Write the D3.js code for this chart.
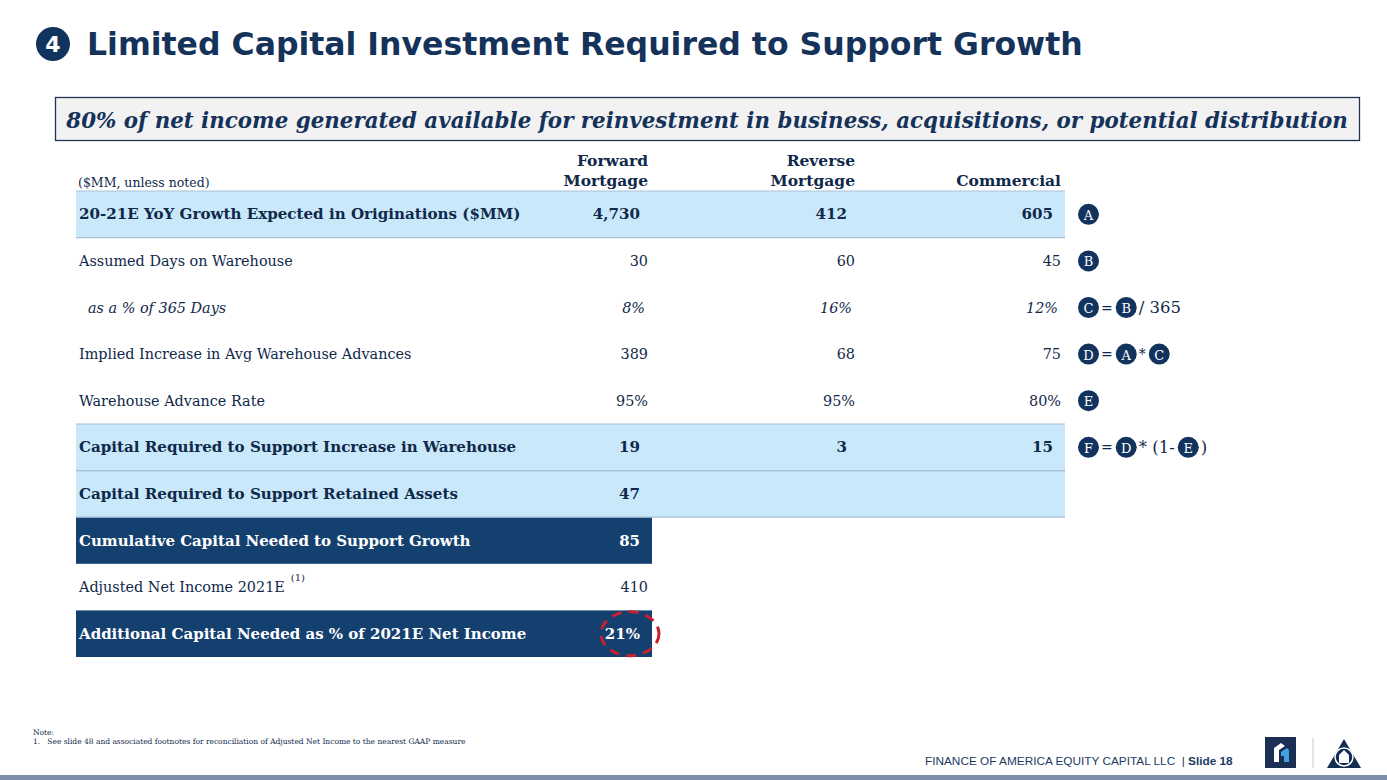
<!DOCTYPE html>
<html><head><meta charset="utf-8">
<script src="https://cdn.jsdelivr.net/npm/d3@7"></script>
<style>body{margin:0;background:#fff}svg{display:block}</style>
</head><body><svg id="c" width="1387" height="780"></svg>
<script>
// ---- data ----
const titleText = "Limited Capital Investment Required to Support Growth";
const subtitleText = "80% of net income generated available for reinvestment in business, acquisitions, or potential distribution";
const unitNote = "($MM, unless noted)";
const columns = ["Forward|Mortgage", "Reverse|Mortgage", "Commercial"];
const rowLabels = [
  "20-21E YoY Growth Expected in Originations ($MM)",
  "Assumed Days on Warehouse",
  "as a % of 365 Days",
  "Implied Increase in Avg Warehouse Advances",
  "Warehouse Advance Rate",
  "Capital Required to Support Increase in Warehouse",
  "Capital Required to Support Retained Assets",
  "Cumulative Capital Needed to Support Growth",
  "Adjusted Net Income 2021E",
  "Additional Capital Needed as % of 2021E Net Income"
];
const rowKinds = ["highlight","plain","italic","plain","plain","highlight","highlight","dark","plain","dark"];
const forwardValues = ["4,730","30","8%","389","95%","19","47","85","410","21%"];
const reverseValues = ["412","60","16%","68","95%","3","","","",""];
const commercialValues = ["605","45","12%","75","80%","15","","","",""];
const formulas = [
  ["@A"], ["@B"], ["@C","=","@B","/ 365"], ["@D","=","@A","*","@C"], ["@E"],
  ["@F","=","@D","* (1-","@E",")"], [], [], [], []
];
const footnoteRow = 8;
const noteLines = ["Note:", "1.\u00a0\u00a0\u00a0See slide 48 and associated footnotes for reconciliation of Adjusted Net Income to the nearest GAAP measure"];
const footerText = "FINANCE OF AMERICA EQUITY CAPITAL LLC\u00a0\u00a0| ";
const footerSlide = "Slide 18";

// ---- style ----
const NAVY = "#14406f", TXT = "#10284a", LIGHT = "#c9e8f9", SEP = "#a9c1d6";
const SERIF = "'DejaVu Serif', Georgia, serif";
const svg = d3.select("#c");

function fitWidth(sel, target) {
  const w = sel.node().getComputedTextLength();
  const fs = parseFloat(sel.attr("font-size"));
  sel.attr("font-size", fs * target / w);
}
function sizeFor(k) { return k === "highlight" ? 15.1 : k === "dark" ? 15.0 : 14.4; }

// Title
svg.append("circle").attr("cx", 53).attr("cy", 44).attr("r", 17).attr("fill", "#12335d");
svg.append("text").attr("x", 53).attr("y", 52).attr("text-anchor", "middle")
  .attr("font-family", "'DejaVu Sans', Verdana, sans-serif").attr("font-weight", "bold")
  .attr("font-size", 22).attr("fill", "#fff").text("4");
const t = svg.append("text").attr("x", 87).attr("y", 55)
  .attr("font-family", "'DejaVu Sans', Verdana, sans-serif").attr("font-weight", "bold")
  .attr("font-size", 31).attr("fill", "#14325a").text(titleText);
fitWidth(t, 996);

// Subtitle box
svg.append("rect").attr("x", 55.5).attr("y", 97.5).attr("width", 1304).attr("height", 43)
  .attr("fill", "#f2f2f2").attr("stroke", "#1e3553").attr("stroke-width", 1.3);
const st = svg.append("text").attr("x", 707).attr("y", 128).attr("text-anchor", "middle")
  .attr("font-family", SERIF).attr("font-style", "italic").attr("font-weight", "bold")
  .attr("font-size", 24).attr("fill", "#15325a").text(subtitleText);
fitWidth(st, 1282);

// Scales
const y = d3.scaleBand().domain(d3.range(rowLabels.length)).range([191, 657]).padding(0);
const colRight = d3.scaleOrdinal().domain(columns).range([648, 855, 1061]);
const colValues = [forwardValues, reverseValues, commercialValues];
const tableLeft = 76, tableRight = 1065, narrowRight = 652;

// Header
svg.append("text").attr("x", 78).attr("y", 187).attr("font-family", SERIF)
  .attr("font-size", 12.5).attr("fill", TXT).text(unitNote);
columns.forEach(c => {
  const parts = c.split("|");
  parts.forEach((p, i) => {
    svg.append("text").attr("x", colRight(c)).attr("y", 186 - (parts.length - 1 - i) * 20)
      .attr("text-anchor", "end").attr("font-family", SERIF).attr("font-weight", "bold")
      .attr("font-size", 15.5).attr("fill", TXT).text(p);
  });
});

// Row backgrounds
const rows = svg.append("g");
rowKinds.forEach((k, i) => {
  const right = (k === "dark" || i >= 7) ? narrowRight : tableRight;
  if (k === "highlight" || k === "dark") {
    rows.append("rect").attr("x", tableLeft).attr("y", y(i)).attr("width", right - tableLeft)
      .attr("height", y.bandwidth()).attr("fill", k === "dark" ? NAVY : LIGHT);
  }
});
rowKinds.forEach((k, i) => {
  if (k === "highlight") {
    [y(i), y(i) + y.bandwidth()].forEach(yy => {
      rows.append("line").attr("x1", tableLeft).attr("x2", tableRight)
        .attr("y1", yy).attr("y2", yy).attr("stroke", SEP).attr("stroke-width", 1.2);
    });
  }
});

// Labels and values
rowLabels.forEach((lab, i) => {
  const k = rowKinds[i];
  const bold = k === "highlight" || k === "dark";
  const fill = k === "dark" ? "#fff" : TXT;
  const fs = sizeFor(k);
  const cy = y(i) + y.bandwidth() / 2;
  const lt = svg.append("text").attr("x", k === "italic" ? 88 : 79).attr("y", cy)
    .attr("dominant-baseline", "central").attr("font-family", SERIF)
    .attr("font-weight", bold ? "bold" : "normal").attr("font-style", k === "italic" ? "italic" : "normal")
    .attr("font-size", fs).attr("fill", fill).text(lab);
  if (i === footnoteRow) {
    const w = lt.node().getComputedTextLength();
    svg.append("text").attr("x", 79 + w + 6).attr("y", cy - 6).attr("font-family", SERIF)
      .attr("font-size", 10).attr("fill", fill).text("(1)");
  }
  columns.forEach((c, j) => {
    const v = colValues[j][i];
    if (!v) return;
    const off = bold ? 8 : (k === "italic" ? 3 : 0);
    svg.append("text").attr("x", colRight(c) - off).attr("y", cy)
      .attr("text-anchor", "end").attr("dominant-baseline", "central").attr("font-family", SERIF)
      .attr("font-weight", bold ? "bold" : "normal").attr("font-style", k === "italic" ? "italic" : "normal")
      .attr("font-size", fs).attr("fill", fill).text(v);
  });
  let x = 1078;
  formulas[i].forEach(tok => {
    if (tok.startsWith("@")) {
      svg.append("circle").attr("cx", x + 10.5).attr("cy", cy).attr("r", 10.5).attr("fill", "#12335d");
      svg.append("text").attr("x", x + 10.5).attr("y", cy + 1).attr("text-anchor", "middle")
        .attr("dominant-baseline", "central").attr("font-family", SERIF).attr("font-size", 13)
        .attr("fill", "#fff").text(tok.slice(1));
      x += 21 + 2;
    } else {
      const tt = svg.append("text").attr("x", x).attr("y", cy).attr("dominant-baseline", "central")
        .attr("font-family", SERIF).attr("font-size", tok === "=" || tok === "*" ? 14 : 16.5)
        .attr("fill", TXT).text(tok);
      x += tt.node().getComputedTextLength() + 3;
    }
  });
});

// red dashed highlight around last value
const lastI = rowLabels.length - 1;
svg.append("ellipse").attr("cx", 630).attr("cy", y(lastI) + y.bandwidth() / 2)
  .attr("rx", 29).attr("ry", 22).attr("fill", "none").attr("stroke", "#c8202f")
  .attr("stroke-width", 3).attr("stroke-dasharray", "10,7");

// Notes
noteLines.forEach((n, i) => {
  svg.append("text").attr("x", 33).attr("y", 735 + i * 9).attr("font-family", SERIF)
    .attr("font-size", 7.5).attr("fill", TXT).text(n);
});

// Footer
const ft = svg.append("text").attr("x", 925).attr("y", 765).attr("font-family", "'Liberation Sans', Arial, sans-serif")
  .attr("font-size", 11.8).attr("fill", "#1c3a64");
ft.append("tspan").text(footerText);
ft.append("tspan").attr("font-weight", "bold").text(footerSlide);

svg.append("rect").attr("x", 0).attr("y", 775).attr("width", 1387).attr("height", 5).attr("fill", "#7d8fa8");

// logos
svg.append("rect").attr("x", 1265).attr("y", 737).attr("width", 31).attr("height", 31).attr("fill", "#1b2f55");
svg.append("path").attr("d", "M1274,762 L1274,748 L1281,743 L1285,746 L1279,750 L1279,762 Z").attr("fill", "#fff");
svg.append("path").attr("d", "M1281,752 L1287,748 L1289,750 L1289,762 L1284,762 L1284,756 L1281,756 Z").attr("fill", "#3fa3e0");
svg.append("line").attr("x1", 1313).attr("x2", 1313).attr("y1", 738).attr("y2", 768)
  .attr("stroke", "#cfd6de").attr("stroke-width", 1.2);
svg.append("path").attr("d", "M1344,739 L1361,768 L1327,768 Z").attr("fill", "#132d52");
svg.append("circle").attr("cx", 1344).attr("cy", 757).attr("r", 9).attr("fill", "#132d52").attr("stroke", "#fff").attr("stroke-width", 1.5);
svg.append("path").attr("d", "M1339,763 L1339,755 L1344,750 L1349,755 L1349,763 Z").attr("fill", "#fff");
</script></body></html>
